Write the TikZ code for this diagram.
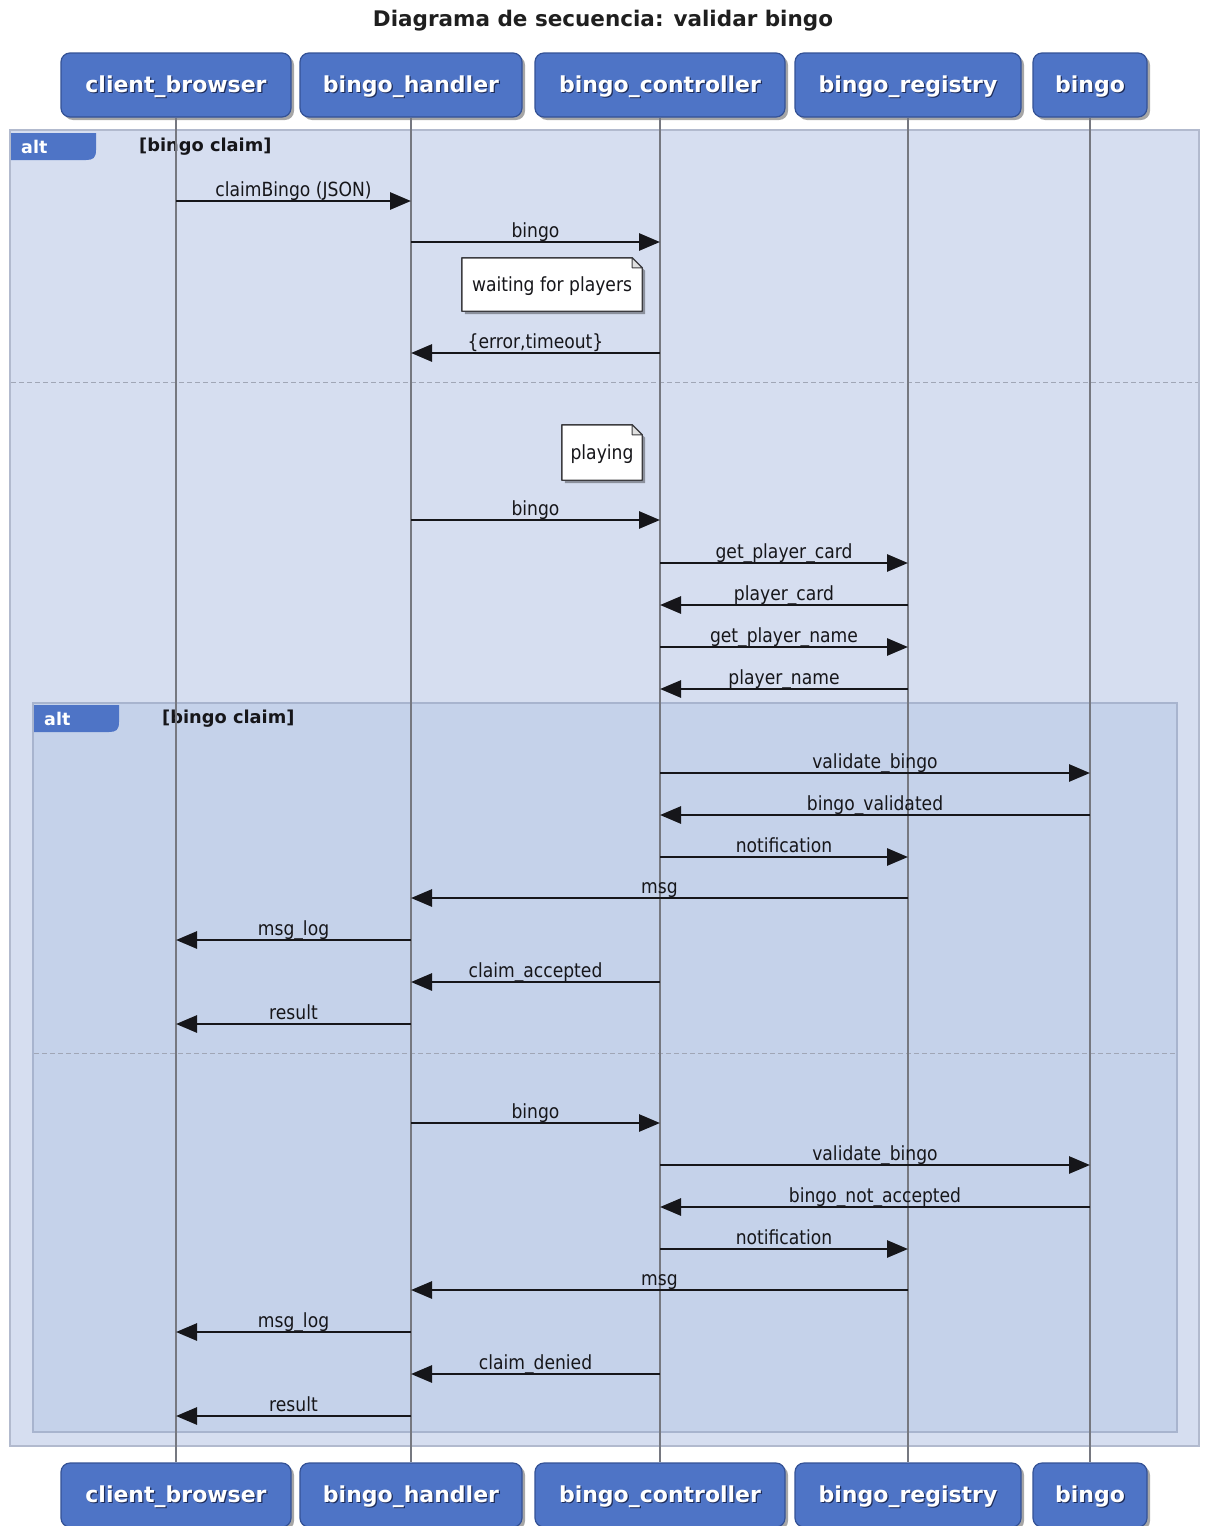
\documentclass[tikz,border=0pt]{standalone}
\usepackage{fontspec}
\setmainfont{DejaVu Sans}
\newfontfamily\msgfont[FakeStretch=0.88]{DejaVu Sans}
\usetikzlibrary{arrows.meta,shadows,calc}

\definecolor{partfill}{RGB}{78,116,198}
\definecolor{partdraw}{RGB}{52,82,150}
\definecolor{partshade}{RGB}{30,45,90}
\definecolor{outerfill}{RGB}{214,222,240}
\definecolor{outerdraw}{RGB}{178,186,206}
\definecolor{innerfill}{RGB}{197,210,234}
\definecolor{innerdraw}{RGB}{168,180,206}
\definecolor{lifegray}{RGB}{118,120,128}
\definecolor{sepgray}{RGB}{160,166,182}
\definecolor{inkdark}{RGB}{22,22,26}
\definecolor{notegray}{RGB}{60,60,64}

\pgfdeclarelayer{frames}
\pgfdeclarelayer{notebg}
\pgfsetlayers{frames,notebg,main}

% white label with a soft dark offset copy underneath
\newcommand\shadowed[1]{\leavevmode\rlap{\kern1.2pt\raisebox{-1.2pt}{\textcolor{partshade}{#1}}}#1}

% one synchronous message between two lifelines at height #3
\newcommand\seqmsg[4]{\draw[msgline] (#1 |- 0,#3) -- node[msglabel] (m#3) {#4} (#2 |- 0,#3);}

% note outline with folded top-right corner, behind the note text
\newcommand\seqnote[1]{%
  \begin{pgfonlayer}{notebg}
    \fill[black, opacity=0.35] ($(#1.north west)+(3,3)$) -- ($(#1.north east)+(-7,3)$) -- ($(#1.north east)+(3,13)$) -- ($(#1.south east)+(3,3)$) -- ($(#1.south west)+(3,3)$) -- cycle;
    \filldraw[fill=white, draw=notegray, line width=1.4pt, line join=round] (#1.north west) -- ($(#1.north east)+(-10,0)$) -- ($(#1.north east)+(0,10)$) -- (#1.south east) -- (#1.south west) -- cycle;
    \filldraw[fill=black!12, draw=notegray, line width=1pt, line join=round] ($(#1.north east)+(-10,0)$) -- ($(#1.north east)+(-10,10)$) -- ($(#1.north east)+(0,10)$) -- cycle;
  \end{pgfonlayer}}

\begin{document}
\begin{tikzpicture}[x=1pt, y=-1pt,
  participant/.style={rectangle, rounded corners=9pt, fill=partfill, draw=partdraw,
    line width=1.2pt, minimum height=64pt, inner sep=0pt, text=white,
    text height=15pt, text depth=0pt,
    font=\fontsize{22}{26}\selectfont\bfseries,
    drop shadow={shadow xshift=3pt, shadow yshift=-3pt, opacity=0.35, fill=black}},
  lifeline/.style={draw=lifegray, line width=1.6pt},
  msgline/.style={draw=inkdark, line width=2.8pt, -{Triangle[length=21pt, width=17pt]}},
  msglabel/.style={anchor=base, yshift=5pt, inner sep=0pt, text=inkdark,
    font=\msgfont\fontsize{19.5}{23}\selectfont},
  notetext/.style={inner sep=0pt, text=inkdark, text height=13pt, text depth=0pt,
    font=\msgfont\fontsize{19.5}{23}\selectfont},
  outerframe/.style={fill=outerfill, draw=outerdraw, line width=1.5pt},
  innerframe/.style={fill=innerfill, draw=innerdraw, line width=1.5pt},
  separator/.style={draw=sepgray, line width=1pt, dashed, dash pattern=on 5pt off 3pt},
  alttab/.style={fill=partfill},
  alttext/.style={anchor=west, inner sep=0pt, text=white, font=\fontsize{17.5}{21}\selectfont\bfseries},
  guardtext/.style={anchor=west, inner sep=0pt, text=inkdark, font=\fontsize{17.8}{21}\selectfont\bfseries},
  titletext/.style={inner sep=0pt, text=black!88, font=\fontsize{21.5}{26}\selectfont\bfseries}
]
\useasboundingbox (0,0) rectangle (1206,1526);

% page background and combined fragments
\begin{pgfonlayer}{frames}
  \fill[white] (0,0) rectangle (1206,1526);
  \draw[outerframe] (10,130) rectangle (1199,1446);
  \fill[alttab] (11,133) -- (96,133) -- (96,150) .. controls (96,158) and (93,160) .. (86,160) -- (11,160) -- cycle;
  \draw[separator] (11,382) -- (1198,382);
  \draw[innerframe] (33,703) rectangle (1177,1432);
  \fill[alttab] (34,705) -- (119,705) -- (119,722) .. controls (119,730) and (116,732) .. (109,732) -- (34,732) -- cycle;
  \draw[separator] (34,1053) -- (1176,1053);
\end{pgfonlayer}

% title
\node[titletext] (title) at (603,21) {Diagrama de secuencia: validar bingo};

\node[alttext] (alt1) at (21,147) {alt};
\node[guardtext] (guard1) at (139,147) {[bingo claim]};
\node[alttext] (alt2) at (44,719) {alt};
\node[guardtext] (guard2) at (162,719) {[bingo claim]};

% participants, top and bottom
\node[participant, minimum width=230pt] (cbT) at (176,85) {\shadowed{client\_browser}};
\node[participant, minimum width=222pt] (bhT) at (411,85) {\shadowed{bingo\_handler}};
\node[participant, minimum width=250pt] (ctT) at (660,85) {\shadowed{bingo\_controller}};
\node[participant, minimum width=226pt] (rgT) at (908,85) {\shadowed{bingo\_registry}};
\node[participant, minimum width=114pt] (bgT) at (1090,85) {\shadowed{bingo}};

\node[participant, minimum width=230pt] (cbB) at (176,1495) {\shadowed{client\_browser}};
\node[participant, minimum width=222pt] (bhB) at (411,1495) {\shadowed{bingo\_handler}};
\node[participant, minimum width=250pt] (ctB) at (660,1495) {\shadowed{bingo\_controller}};
\node[participant, minimum width=226pt] (rgB) at (908,1495) {\shadowed{bingo\_registry}};
\node[participant, minimum width=114pt] (bgB) at (1090,1495) {\shadowed{bingo}};

% lifelines
\draw[lifeline] (cbT.south) -- (cbB.north);
\draw[lifeline] (bhT.south) -- (bhB.north);
\draw[lifeline] (ctT.south) -- (ctB.north);
\draw[lifeline] (rgT.south) -- (rgB.north);
\draw[lifeline] (bgT.south) -- (bgB.north);

% notes
\node[notetext, minimum width=180pt, minimum height=53pt] (note1) at (552,284.5) {waiting for players};
\seqnote{note1}
\node[notetext, minimum width=80pt, minimum height=55pt] (note2) at (602,452.5) {playing};
\seqnote{note2}

% first operand
\seqmsg{cbT}{bhT}{201}{claimBingo (JSON)}
\seqmsg{bhT}{ctT}{242}{bingo}
\seqmsg{ctT}{bhT}{353}{\{error,timeout\}}

% second operand
\seqmsg{bhT}{ctT}{520}{bingo}
\seqmsg{ctT}{rgT}{563}{get\_player\_card}
\seqmsg{rgT}{ctT}{605}{player\_card}
\seqmsg{ctT}{rgT}{647}{get\_player\_name}
\seqmsg{rgT}{ctT}{689}{player\_name}

% nested fragment, accepted claim
\seqmsg{ctT}{bgT}{773}{validate\_bingo}
\seqmsg{bgT}{ctT}{815}{bingo\_validated}
\seqmsg{ctT}{rgT}{857}{notification}
\seqmsg{rgT}{bhT}{898}{msg}
\seqmsg{bhT}{cbT}{940}{msg\_log}
\seqmsg{ctT}{bhT}{982}{claim\_accepted}
\seqmsg{bhT}{cbT}{1024}{result}

% nested fragment, denied claim
\seqmsg{bhT}{ctT}{1123}{bingo}
\seqmsg{ctT}{bgT}{1165}{validate\_bingo}
\seqmsg{bgT}{ctT}{1207}{bingo\_not\_accepted}
\seqmsg{ctT}{rgT}{1249}{notification}
\seqmsg{rgT}{bhT}{1290}{msg}
\seqmsg{bhT}{cbT}{1332}{msg\_log}
\seqmsg{ctT}{bhT}{1374}{claim\_denied}
\seqmsg{bhT}{cbT}{1416}{result}
\end{tikzpicture}
\end{document}
